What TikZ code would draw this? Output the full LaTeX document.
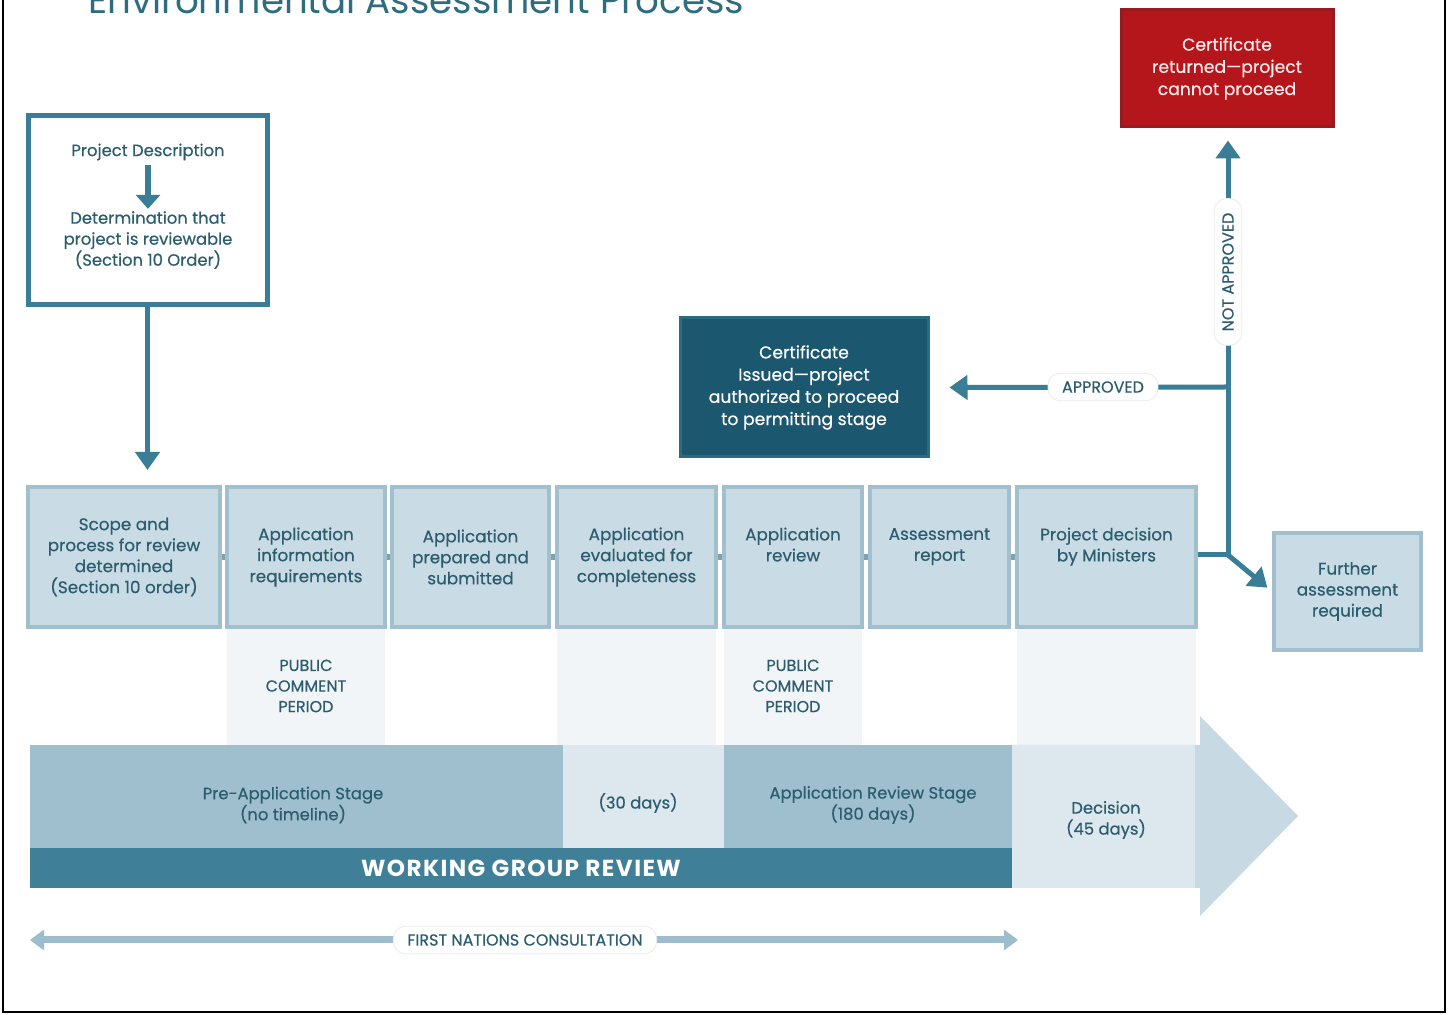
\documentclass[tikz,border=0pt]{standalone}
\usepackage{fontspec}
\setmainfont{Poppins}
\newfontfamily\medfont{Poppins}[FakeBold=0.5, Ligatures=TeX]
\usetikzlibrary{arrows.meta,positioning}
\definecolor{ink}{HTML}{2B5D6E}
\definecolor{flowc}{HTML}{3A7D96}
\definecolor{boxfill}{HTML}{C9DBE4}
\definecolor{boxline}{HTML}{A2BFCE}
\definecolor{colfill}{HTML}{F1F5F7}
\definecolor{stagefill}{HTML}{9FBFCF}
\definecolor{lightfill}{HTML}{DDE8EE}
\definecolor{headfill}{HTML}{C7D9E2}
\definecolor{wgfill}{HTML}{3F7F97}
\definecolor{certfill}{HTML}{1B586F}
\definecolor{certline}{HTML}{2D6B82}
\definecolor{redfill}{HTML}{B5161C}
\definecolor{redline}{HTML}{971A1E}
\definecolor{fnline}{HTML}{9DBDCD}
\definecolor{titlec}{HTML}{2E6D80}
\begin{document}
\begin{tikzpicture}[x=0.5pt, y=-0.5pt,
  stepbox/.style={draw=boxline, fill=boxfill, line width=2pt, text=ink, align=center,
    font=\medfont\fontsize{8.4}{10.5}\selectfont, inner sep=0pt, minimum height=70pt},
  col/.style={fill=colfill, inner sep=0pt, minimum height=59pt, text=ink, align=center,
    font=\medfont\fontsize{8}{10.3}\selectfont},
  band/.style={inner sep=0pt, text=ink, align=center, font=\medfont\fontsize{8.2}{10.5}\selectfont},
  flowline/.style={draw=flowc, line width=2.5pt},
  flow/.style={flowline, -{Triangle[width=12pt,length=9pt]}},
  tag/.style={fill=white, draw=black!8, rounded corners=6pt, text=ink,
    font=\medfont\fontsize{8}{9}\selectfont, inner xsep=7pt, inner ysep=4pt},
  link/.style={draw=boxline!70!ink, line width=3pt}
]
\clip (0,0) rectangle (1448,1015);
\fill[white] (0,0) rectangle (1448,1015);

% title, cut at the top
\node[anchor=base west, inner sep=0pt, text=titlec, font=\fontsize{18.6}{20}\selectfont]
  (title) at (88,14) {Environmental Assessment Process};

% project description
\node[draw=flowc, line width=2.5pt, fill=white, minimum width=119.5pt, minimum height=94.5pt]
  (pd) at (147.5,210.5) {};
\node[band] (pdtop) at (148,152) {Project Description};
\node[band] (pdbot) at (148,240) {Determination that\\project is reviewable\\(Section 10 Order)};
\draw[flowc, line width=3pt, -{Triangle[width=12pt,length=7pt]}, shorten <=2pt, shorten >=1pt]
  (pdtop) -- (pdbot);

% columns under the steps
\node[col, minimum width=79pt] (pc1) at (306,686) {PUBLIC\\COMMENT\\PERIOD};
\node[col, minimum width=79.5pt] (c4) at (636.5,686) {};
\node[col, minimum width=69pt] (pc2) at (793,686) {PUBLIC\\COMMENT\\PERIOD};
\node[col, minimum width=89.5pt] (c7) at (1106.5,686) {};

% steps
\node[stepbox, minimum width=96pt] (scope) at (124,557)
  {Scope and\\process for review\\determined\\(Section 10 order)};
\node[stepbox, minimum width=79pt] (info) at (306,557)
  {Application\\information\\requirements};
\node[stepbox, minimum width=78.5pt] (prep) at (470.5,557)
  {Application\\prepared and\\submitted};
\node[stepbox, minimum width=79.5pt] (eval) at (636.5,557)
  {Application\\evaluated for\\completeness};
\node[stepbox, minimum width=69pt] (review) at (793,557)
  {Application\\review\\[2pt]};
\node[stepbox, minimum width=69.5pt] (report) at (939.5,557)
  {Assessment\\report\\[2pt]};
\node[stepbox, minimum width=89.5pt] (decide) at (1106.5,557)
  {Project decision\\by Ministers\\[2pt]};
\foreach \a/\b in {scope/info, info/prep, prep/eval, eval/review, review/report, report/decide}
  \draw[link] (\a) -- (\b);

\draw[flow, shorten >=7.5pt] (pd.south) -- (pd.south |- scope.north);

% stages
\fill[headfill] (1012,745) -- (1200,745) -- (1200,716) -- (1298,816)
  -- (1200,916) -- (1200,888) -- (1012,888) -- cycle;
\node[fill=stagefill, inner sep=0pt, minimum width=266.5pt, minimum height=51.5pt]
  (pre) at (296.5,796.5) {};
\node[fill=lightfill, inner sep=0pt, minimum width=80.5pt, minimum height=51.5pt]
  (thirty) at (643.5,796.5) {};
\node[fill=stagefill, inner sep=0pt, minimum width=144pt, minimum height=51.5pt]
  (arstage) at (868,796.5) {};
\node[fill=lightfill, inner sep=0pt, minimum width=91.5pt, minimum height=71.5pt]
  (dec) at (1103.5,816.5) {};
\node[band] (pretxt) at (293,805) {Pre-Application Stage\\(no timeline)};
\node[band] (thirtytxt) at (638,803) {(30 days)};
\node[band] (artxt) at (873,805) {Application Review Stage\\(180 days)};
\node[band] (dectxt) at (1106,820) {Decision\\(45 days)};
\node[fill=wgfill, inner sep=0pt, minimum width=491pt, minimum height=20pt, text=white,
  font=\bfseries\fontsize{11.6}{12}\selectfont\addfontfeatures{LetterSpace=6}]
  (wg) at (521,868) {WORKING GROUP REVIEW};

% first nations consultation
\coordinate (fnL) at (30,940);
\coordinate (fnR) at (1018,940);
\draw[fnline, line width=3.5pt, {Triangle[width=10pt,length=7pt]}-{Triangle[width=10pt,length=7pt]}]
  (fnL) -- (fnR);
\node[tag] (fn) at (525,940) {FIRST NATIONS CONSULTATION};

% outcomes
\node[fill=certfill, draw=certline, line width=1.5pt, minimum width=124pt, minimum height=69.5pt,
  text=white, align=center, font=\medfont\fontsize{8.6}{11.1}\selectfont]
  (cert) at (804,387.5) {Certificate\\Issued—project\\authorized to proceed\\to permitting stage};
\node[fill=redfill, draw=redline, line width=1.5pt, minimum width=106pt, minimum height=58.5pt,
  text=white!92!red, align=center, font=\medfont\fontsize{8.6}{11.1}\selectfont]
  (red) at (1227,68.5) {Certificate\\returned—project\\cannot proceed};
\node[stepbox, minimum width=73.5pt, minimum height=58.5pt] (further) at (1347.5,591.5)
  {Further\\assessment\\required};

\coordinate (japp) at (1228,387);
\coordinate (jdec) at (1228,555);
\draw[flowline] (decide.east |- jdec) -- (jdec);
\draw[flow, shorten >=6pt] (jdec) -- (jdec |- red.south);
\draw[flow, shorten >=10pt] (japp) -- (cert.east);
\draw[flow, shorten >=3pt] (jdec) -- (further.west);
\node[tag] (appr) at (1103,387) {APPROVED};
\node[tag, rotate=90] (notappr) at (1228,272) {NOT APPROVED};

% frame
\draw[black, line width=1pt] (3,-20) -- (3,1012) -- (1445,1012) -- (1445,-20);
\end{tikzpicture}
\end{document}
